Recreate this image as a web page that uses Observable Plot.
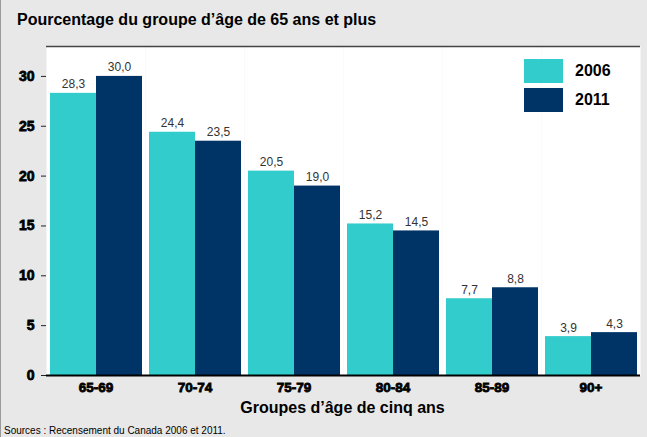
<!DOCTYPE html>
<html><head><meta charset="utf-8">
<script src="https://cdn.jsdelivr.net/npm/d3@7"></script>
<script src="https://cdn.jsdelivr.net/npm/@observablehq/plot@0.6"></script>
<style>
html,body{margin:0;padding:0;}
body{width:647px;height:437px;overflow:hidden;background:#e8e8e8;}
#wrap{position:relative;width:647px;height:437px;background:#e8e8e8;font-family:"Liberation Sans",Arial,sans-serif;color:#000;}
#edge{position:absolute;left:0;top:0;width:1px;height:437px;background:#9a9a9a;}
#title{font-weight:bold;font-size:16px;line-height:20px;height:20px;padding:10px 0 6px 17px;white-space:nowrap;}
#chart svg{display:block;}
#xtitle{margin-left:45px;width:595px;text-align:center;font-weight:bold;font-size:16px;line-height:20px;height:26px;}
#source{font-size:10px;line-height:13px;padding-left:4px;white-space:nowrap;}
#legend{position:absolute;left:524px;top:59px;}
.item{display:flex;align-items:center;height:24px;margin-bottom:5px;}
.sw{display:inline-block;width:39px;height:24px;margin-right:12px;}
.lab{font-weight:bold;font-size:16px;}
g[aria-label="y-axis tick label"], g[aria-label="fx-axis tick label"]{stroke:#000;stroke-width:0.8px;}
</style>
</head><body>
<div id="wrap">
  <div id="edge"></div>
  <div id="title">Pourcentage du groupe d’âge de 65 ans et plus</div>
  <div id="chart"></div>
  <div id="xtitle">Groupes d’âge de cinq ans</div>
  <div id="source">Sources : Recensement du Canada 2006 et 2011.</div>
  <div id="legend"></div>
</div>
<script>
const groups = ["65-69", "70-74", "75-79", "80-84", "85-89", "90+"];
const years = ["2006", "2011"];
const values2006 = [28.3, 24.4, 20.5, 15.2, 7.7, 3.9];
const values2011 = [30.0, 23.5, 19.0, 14.5, 8.8, 4.3];
const yTicks = [0, 5, 10, 15, 20, 25, 30];
const colors = ["#33CCCC", "#003366"];

const data = groups.flatMap((g, i) => [
  {group: g, year: years[0], value: values2006[i]},
  {group: g, year: years[1], value: values2011[i]}
]);

const chart = Plot.plot({
  width: 647,
  height: 362,
  marginTop: 10,
  marginBottom: 23,
  marginLeft: 45,
  marginRight: 7,
  style: {fontFamily: "Liberation Sans, Arial, sans-serif", background: "transparent", overflow: "visible"},
  fx: {domain: groups, paddingInner: 0, paddingOuter: 0, label: null},
  x: {domain: years, paddingInner: 0, paddingOuter: 0.055, axis: null},
  y: {domain: [0, 33], axis: null},
  color: {domain: years, range: colors},
  marks: [
    Plot.frame({fill: "white", stroke: "none"}),
    Plot.barY(data, {fx: "group", x: "year", y: "value", fill: "year"}),
    Plot.text(data, {fx: "group", x: "year", y: "value",
      text: d => d.value.toFixed(1).replace(".", ","),
      dy: -5, lineAnchor: "bottom", fontSize: 12, fill: "#333"}),
    Plot.ruleY([33], {stroke: "#444", strokeWidth: 1.5}),
    Plot.ruleY([0], {stroke: "black", strokeWidth: 2}),
    Plot.axisY({ticks: yTicks, tickSize: 0, tickFormat: () => "", label: null, line: true, stroke: "#999", strokeWidth: 1.5}),
    Plot.axisY({ticks: yTicks, tickSize: 5, tickPadding: 7, fontSize: 14, fontWeight: "bold", label: null, stroke: "#222"}),
    Plot.axisFx({anchor: "bottom", tickSize: 0, tickPadding: 7, fontSize: 13.5, fontWeight: "bold", label: null})
  ]
});
document.getElementById("chart").appendChild(chart);

const legend = document.getElementById("legend");
years.forEach((y, i) => {
  const item = document.createElement("div");
  item.className = "item";
  const sw = document.createElement("span");
  sw.className = "sw";
  sw.style.background = colors[i];
  const lab = document.createElement("span");
  lab.className = "lab";
  lab.textContent = y;
  item.appendChild(sw);
  item.appendChild(lab);
  legend.appendChild(item);
});
</script>
</body></html>
